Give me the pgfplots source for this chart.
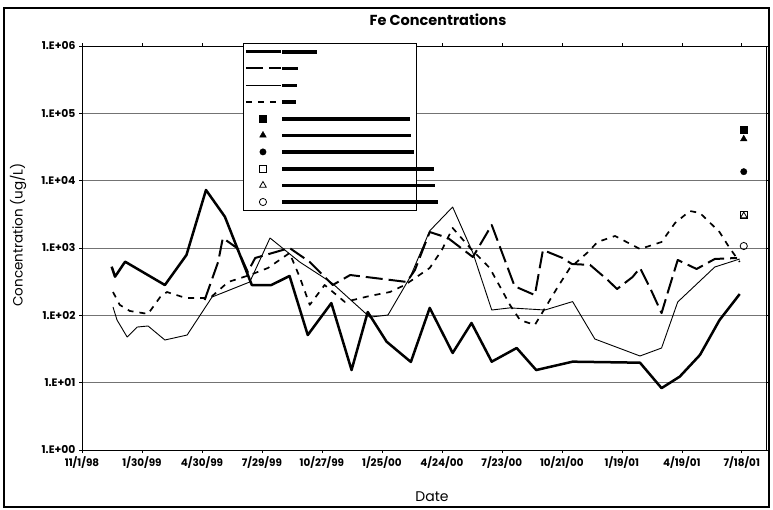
\documentclass[border=0pt]{standalone}
\usepackage{pgfplots}
\pgfplotsset{compat=1.18}
\usepackage{fontspec}
\setmainfont{Poppins}
\newcommand{\redact}[1]{\makebox[132pt][l]{\rule[0.5pt]{#1}{3.6pt}}}
\begin{document}
\begin{tikzpicture}[x=1pt,y=1pt]
\path[use as bounding box] (0,0) rectangle (773,509);
\draw[line width=1.6pt] (4,2) rectangle (769,501);
\begin{axis}[
  at={(82pt,59pt)}, anchor=south west,
  scale only axis, width=684pt, height=404pt,
  xmin=0, xmax=1015, ymode=log, ymin=1, ymax=1e6,
  xtick={0,89,...,979},
  xticklabels={11/1/98,1/30/99,4/30/99,7/29/99,10/27/99,1/25/00,4/24/00,7/23/00,10/21/00,1/19/01,4/19/01,7/18/01},
  ytick={1,10,100,1000,10000,100000,1000000},
  yticklabels={1.E+00,1.E+01,1.E+02,1.E+03,1.E+04,1.E+05,1.E+06},
  yminorticks=false,
  ymajorgrids, major grid style={black!55, line width=0.6pt},
  tick align=outside, major tick length=3pt, tick style={black, line width=0.5pt},
  axis line style={black, line width=0.6pt},
  yticklabel style={font=\bfseries\fontsize{10.8}{11}\selectfont},
  xticklabel style={font=\bfseries\fontsize{10.4}{11}\selectfont},
  legend style={at={(0.2354,1.0074)}, anchor=north west, draw=black, fill=white,
    inner xsep=1.5pt, inner ysep=4pt, row sep=7.7pt, column sep=0pt,
    nodes={inner sep=0pt, text height=7pt, text depth=2pt, anchor=west}},
  legend cell align=left,
  legend image code/.code={\draw[mark repeat=2,mark phase=2,#1] plot coordinates {(0pt,0pt) (17pt,0pt) (35pt,0pt)};},
]
% thick solid
\addplot[black, line width=2.5pt, line join=round] coordinates {
(44,528)(49,375)(64,626)(123,282)(155,787)(184,7272)(212,2917)(252,282)(281,282)(308,384)(335,51)(370,152)(400,15.4)(424,112)(452,40.6)(488,20.3)(516,129)(550,27.6)(578,77)(608,20.5)(645,32.7)(674,15.4)(728,20.5)(828,19.8)(860,8.3)(887,12.3)(917,25.8)(946,85)(976,207)};
\addlegendentry{\redact{35pt}}
% long dash
\addplot[black, line width=2pt, dash pattern=on 17pt off 6pt, line join=round] coordinates {
(182,169)(202,620)(209,1408)(230,1000)(246,440)(257,711)(308,1000)(338,620)(372,282)(398,397)(482,313)(494,471)(516,1729)(543,1408)(580,735)(608,2197)(642,270)(672,200)(684,934)(713,711)(727,579)(754,560)(780,335)(794,246)(817,371)(828,505)(843,255)(860,108)(869,215)(884,664)(912,488)(939,687)(972,711)};
\addlegendentry{\redact{16pt}}
% thin solid
\addplot[black, line width=0.9pt, line join=round] coordinates {
(46,133)(52,85)(67,47.7)(82,67)(98,69.5)(123,43)(156,51)(193,187)(249,313)(279,1408)(323,620)(371,302)(427,94)(454,101)(487,371)(516,1800)(550,4064)(580,850)(608,120)(635,129)(687,120)(728,160)(761,44.5)(828,24.9)(860,32.7)(884,158)(939,522)(976,687)};
\addlegendentry{\redact{15pt}}
% short dash
\addplot[black, line width=1.7pt, dash pattern=on 6pt off 6pt, line join=round] coordinates {
(46,222)(56,143)(71,116)(98,105)(116,187)(126,222)(154,181)(190,181)(217,313)(249,397)(276,505)(308,843)(323,371)(338,143)(360,282)(390,158)(427,194)(457,222)(479,282)(516,505)(534,934)(550,1983)(576,1000)(605,505)(623,238)(635,143)(650,85)(672,72)(706,264)(724,505)(751,872)(765,1228)(791,1508)(828,966)(860,1228)(880,2351)(902,3545)(917,3311)(946,1729)(961,1000)(976,620)};
\addlegendentry{\redact{14pt}}
\addplot[only marks, black, mark=square*, mark size=3.6pt] coordinates {(982,56600)};
\addlegendentry{\redact{128pt}}
\addplot[only marks, black, mark=triangle*, mark size=3.8pt] coordinates {(982,41600)};
\addlegendentry{\redact{129pt}}
\addplot[only marks, black, mark=*, mark size=3.2pt] coordinates {(982,13600)};
\addlegendentry{\redact{132pt}}
\addplot[only marks, black, mark=square, mark size=3.6pt, mark options={line width=0.8pt}] coordinates {(982,3090)};
\addlegendentry{\redact{152pt}}
\addplot[only marks, black, mark=triangle, mark size=3.8pt, mark options={line width=0.8pt}] coordinates {(982,3000)};
\addlegendentry{\redact{153pt}}
\addplot[only marks, black, mark=o, mark size=3.6pt, mark options={line width=0.8pt}] coordinates {(982,1070)};
\addlegendentry{\redact{156pt}}
\end{axis}
\node[font=\bfseries\fontsize{14.5}{16}\selectfont] at (438,489) {Fe Concentrations};
\node[rotate=90, font=\fontsize{13.5}{15}\selectfont] at (18,274) {Concentration (ug/L)};
\node[font=\fontsize{14}{15}\selectfont] at (432,12) {Date};
\end{tikzpicture}
\end{document}
